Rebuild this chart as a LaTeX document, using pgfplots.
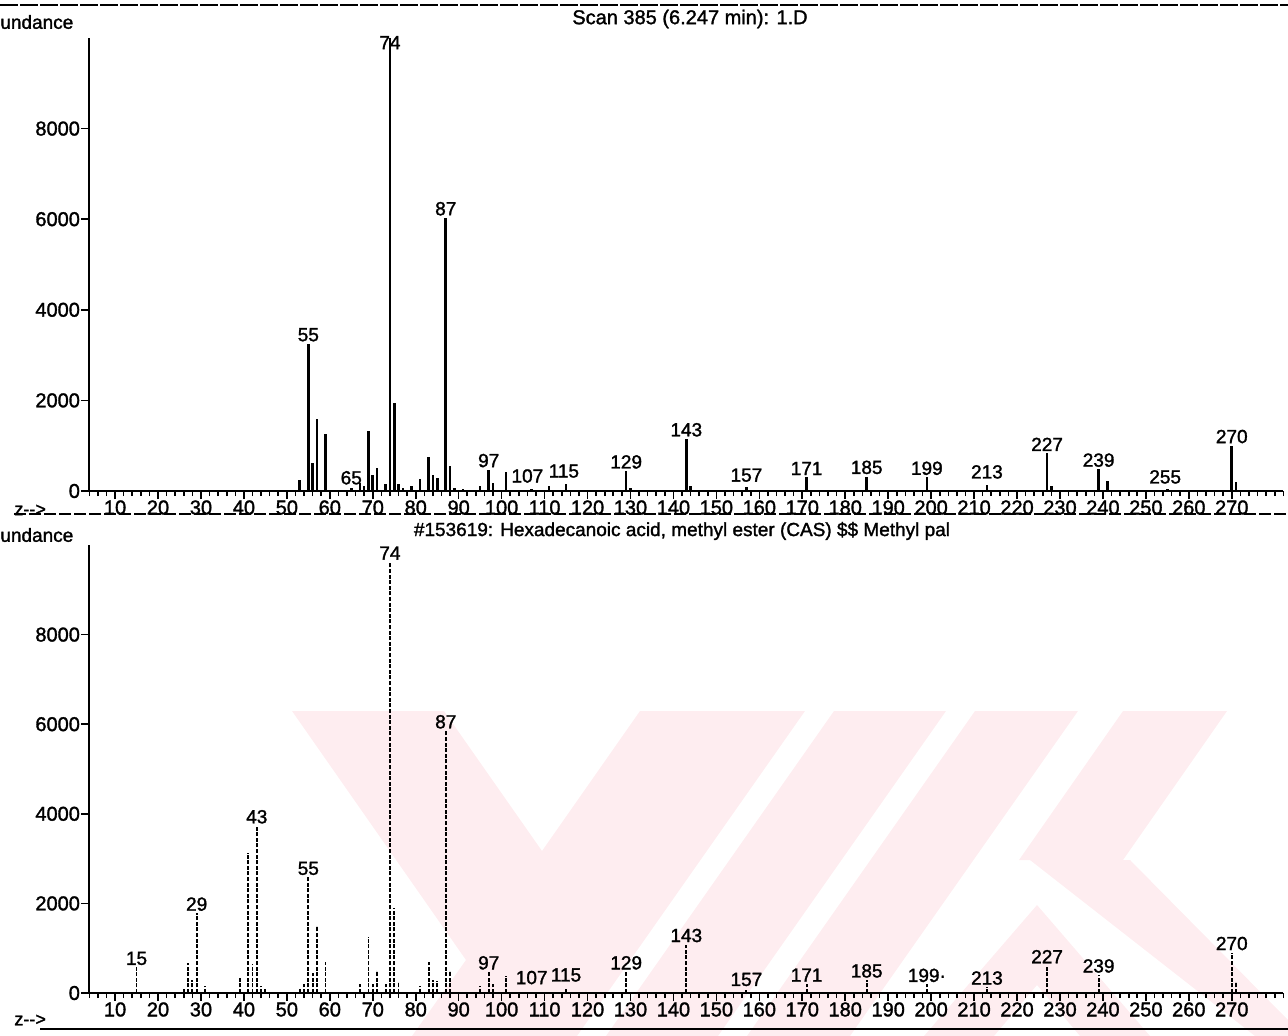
\documentclass[border=0pt]{standalone}
\usepackage{fontspec}
\setmainfont{Liberation Sans}[BoldFont=Liberation Sans, BoldFeatures={FakeBold=1.5}]
\usepackage{pgfplots}
\pgfplotsset{compat=1.18}
\definecolor{wmpink}{RGB}{254,237,240}

\pgfplotsset{
  msaxis/.style={
    scale only axis, width=597pt, anchor=south west,
    xmin=4, xmax=282, ymin=0, ymax=10000,
    axis x line*=bottom, axis y line*=left,
    axis line style={line width=1pt, -},
    xtick={10,20,...,270}, minor xtick={4,6,...,282},
    ytick={0,2000,4000,6000,8000},
    tick align=outside, major tick length=4pt, minor tick length=2.5pt,
    tick style={line width=0.8pt, black},
    every tick label/.append style={font=\fontsize{10}{10}\selectfont\bfseries, inner sep=0.5pt},
    /pgf/number format/assume math mode=true,
    /pgf/number format/set thousands separator={},
    scaled y ticks=false,
    clip=false,
  },
}
\tikzset{lab/.style={anchor=south, inner sep=1pt, font=\fontsize{9.5}{9.5}\selectfont\bfseries}}

\begin{document}
\begin{tikzpicture}
\path[use as bounding box] (0pt,0pt) rectangle (644pt,-518pt);

% ---------- faint watermark behind the lower panel ----------
\begin{scope}[x=0.5pt, y=-0.5pt]
\fill[wmpink] (292,711) -- (444,711) -- (542,851) -- (640,711) -- (805,711)
   -- (577,1036) -- (412,1036) -- (466,960) -- cycle;
\fill[wmpink] (834,711) -- (946,711) -- (718,1036) -- (606,1036) -- cycle;
\fill[wmpink] (975,711) -- (1078,711) -- (850,1036) -- (747,1036) -- cycle;
\fill[wmpink] (1123,711) -- (1227,711) -- (1123,860) -- (1019,860) -- cycle;
\fill[wmpink] (1030,860) -- (1130,860) -- (1288,1020) -- (1288,1036) -- (1255,1036) -- cycle;
\fill[wmpink] (1037,905) -- (1150,1036) -- (1080,1036) -- (1037,985) -- (994,1036) -- (924,1036) -- cycle;
\end{scope}

% ---------- top panel: sample scan ----------
\begin{axis}[msaxis, at={(44.65pt,-245.5pt)}, height=226.5pt]
\addplot[ycomb, black, line width=1.3pt, mark=none] coordinates {
(53,250) (55,3250) (56,620) (57,1580) (59,1250) (65,60) (67,180) (68,120)
(69,1330) (70,350) (71,500) (73,150) (74,10000) (75,1950) (76,150) (77,60)
(79,120) (81,260) (83,750) (84,360) (85,280) (87,6030) (88,560) (89,60)
(91,50) (95,120) (97,470) (98,170) (101,430) (107,50) (111,110) (115,150)
(129,440) (130,60) (143,1150) (144,100) (157,80) (171,300) (185,320)
(199,300) (213,130) (227,830) (228,110) (239,480) (241,220) (255,40)
(270,1000) (271,200)
};
\node[lab] at (axis cs:55,3250) {55};
\node[lab] at (axis cs:65,90) {65};
\node[lab] at (axis cs:74,9700) {74};
\node[lab] at (axis cs:87,6030) {87};
\node[lab] at (axis cs:97,470) {97};
\node[lab] at (axis cs:106,130) {107};
\node[lab] at (axis cs:114.5,240) {115};
\node[lab] at (axis cs:129,440) {129};
\node[lab] at (axis cs:143,1150) {143};
\node[lab] at (axis cs:157,150) {157};
\node[lab] at (axis cs:171,300) {171};
\node[lab] at (axis cs:185,320) {185};
\node[lab] at (axis cs:199,300) {199};
\node[lab] at (axis cs:213,220) {213};
\node[lab] at (axis cs:227,830) {227};
\node[lab] at (axis cs:239,480) {239};
\node[lab] at (axis cs:254.5,110) {255};
\node[lab] at (axis cs:270,1000) {270};
\end{axis}

% ---------- bottom panel: library spectrum ----------
\begin{axis}[msaxis, at={(44.65pt,-496.5pt)}, height=224pt]
\addplot[ycomb, black, line width=0.95pt, dash pattern=on 2pt off 0.8pt, mark=none] coordinates {
(15,570) (26,80) (27,680) (28,300) (29,1780) (31,150) (39,370) (41,3130)
(42,640) (43,3730) (44,150) (45,80) (53,120) (54,200) (55,2580) (56,450)
(57,1500) (59,700) (67,200) (69,1260) (70,200) (71,500) (73,200) (74,9620)
(75,1900) (76,250) (81,150) (83,690) (84,280) (85,260) (87,5850) (88,500)
(95,150) (97,470) (98,200) (101,390) (115,100) (129,470) (143,1080)
(157,60) (171,200) (185,290) (199,190) (213,130) (227,610) (239,400)
(270,900) (271,250)
};
\node[lab] at (axis cs:15,570) {15};
\node[lab] at (axis cs:29,1780) {29};
\node[lab] at (axis cs:43,3730) {43};
\node[lab] at (axis cs:55,2580) {55};
\node[lab] at (axis cs:74,9620) {74};
\node[lab] at (axis cs:87,5850) {87};
\node[lab] at (axis cs:97,470) {97};
\node[lab] at (axis cs:107,140) {107};
\node[lab] at (axis cs:115,200) {115};
\node[lab] at (axis cs:129,470) {129};
\node[lab] at (axis cs:143,1080) {143};
\node[lab] at (axis cs:157,100) {157};
\node[lab] at (axis cs:171,200) {171};
\node[lab] at (axis cs:185,290) {185};
\node[lab] at (axis cs:199,190) {199\textperiodcentered};
\node[lab] at (axis cs:213,130) {213};
\node[lab] at (axis cs:227,610) {227};
\node[lab] at (axis cs:239,400) {239};
\node[lab] at (axis cs:270,900) {270};
\end{axis}

% ---------- surrounding text and rules ----------
\draw[line width=1.2pt, dash pattern=on 9pt off 1pt] (0pt,-2.5pt) -- (644pt,-2.5pt);
\node[font=\fontsize{10}{10}\selectfont\bfseries] at (345pt,-9.5pt) {Scan 385 (6.247 min): 1.D};
\node[anchor=west, inner sep=0pt, font=\fontsize{9.5}{9.5}\selectfont\bfseries] at (0pt,-11pt) {undance};
\node[anchor=west, inner sep=0pt, font=\fontsize{9}{9}\selectfont\bfseries] at (7pt,-255pt) {z{-}{-}>};
\draw[line width=0.8pt, dash pattern=on 6pt off 1.5pt] (7pt,-257pt) -- (644pt,-257pt);

\node[font=\fontsize{9.5}{9.5}\selectfont\bfseries] at (341pt,-265.5pt) {\#153619: Hexadecanoic acid, methyl ester (CAS) \$\$ Methyl pal};
\node[anchor=west, inner sep=0pt, font=\fontsize{9.5}{9.5}\selectfont\bfseries] at (0pt,-267.5pt) {undance};
\node[anchor=west, inner sep=0pt, font=\fontsize{9}{9}\selectfont\bfseries] at (7pt,-510pt) {z{-}{-}>};
\draw[line width=1pt] (20pt,-514.5pt) -- (644pt,-514.5pt);
\end{tikzpicture}
\end{document}
